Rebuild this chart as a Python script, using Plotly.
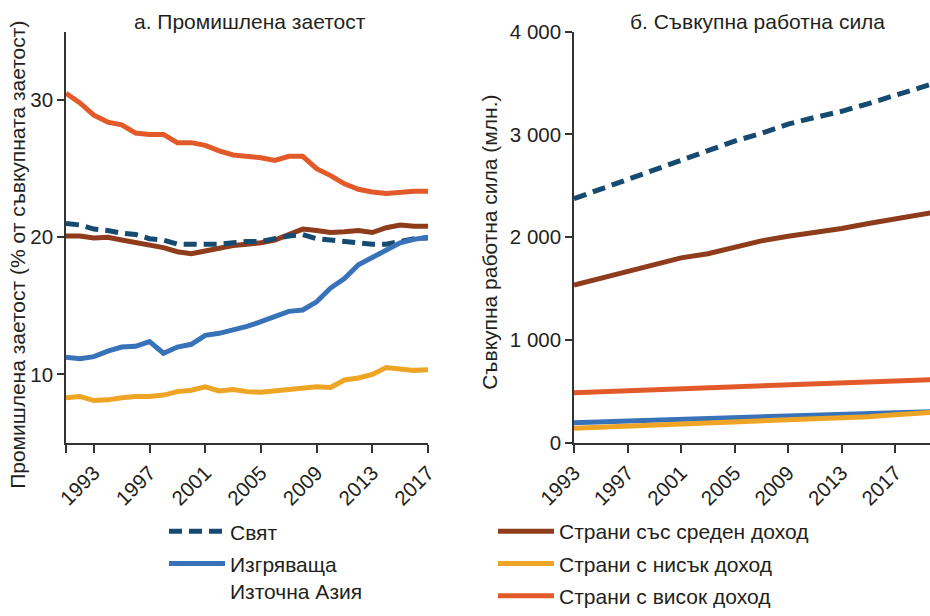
import plotly.graph_objects as go

# ---------------- data ----------------
years_a = list(range(1991, 2018))
world_a = [21.0, 20.9, 20.6, 20.5, 20.3, 20.2, 19.9, 19.8, 19.5, 19.5, 19.5, 19.5, 19.6, 19.7,
           19.7, 19.9, 20.1, 20.2, 19.9, 19.8, 19.7, 19.6, 19.5, 19.5, 19.7, 19.9, 19.95]
eastasia_a = [11.25, 11.15, 11.3, 11.7, 12.0, 12.05, 12.4, 11.55, 12.0, 12.2, 12.85, 13.0, 13.25, 13.5,
              13.85, 14.2, 14.6, 14.7, 15.3, 16.3, 17.0, 18.0, 18.5, 19.1, 19.6, 19.85, 20.0]
middle_a = [20.1, 20.1, 19.95, 20.0, 19.8, 19.6, 19.4, 19.25, 18.95, 18.8, 19.0, 19.2, 19.4, 19.5,
            19.6, 19.8, 20.2, 20.6, 20.5, 20.35, 20.4, 20.5, 20.35, 20.7, 20.9, 20.8, 20.8]
low_a = [8.3, 8.4, 8.1, 8.15, 8.3, 8.4, 8.4, 8.5, 8.75, 8.85, 9.1, 8.8, 8.9, 8.75,
         8.7, 8.8, 8.95, 9.05, 9.1, 9.05, 9.6, 9.75, 10.0, 10.5, 10.4, 10.3, 10.35]
high_a = [30.5, 29.8, 28.9, 28.4, 28.2, 27.6, 27.5, 27.5, 26.9, 26.9, 26.7, 26.3, 26.0, 25.9,
          25.8, 25.6, 25.9, 25.9, 25.0, 24.5, 23.9, 23.5, 23.3, 23.2, 23.3, 23.35, 23.35]

years_b = [1993, 1995, 1997, 1999, 2001, 2003, 2005, 2007, 2009, 2011, 2013, 2015, 2017, 2019, 2020]
world_b = [2375, 2470, 2560, 2650, 2750, 2850, 2935, 3010, 3100, 3165, 3225, 3300, 3380, 3460, 3500]
middle_b = [1535, 1600, 1670, 1740, 1800, 1840, 1900, 1965, 2010, 2045, 2085, 2135, 2180, 2225, 2245]
high_b = [490, 500, 510, 520, 530, 540, 550, 560, 570, 578, 585, 593, 600, 612, 617]
eastasia_b = [198, 207, 215, 222, 230, 238, 245, 252, 260, 270, 280, 288, 295, 303, 306]
low_b = [145, 155, 165, 172, 180, 188, 195, 205, 215, 227, 240, 257, 275, 292, 300]

xticks_a = [1991, 1993, 1997, 2001, 2005, 2009, 2013, 2017]
xticktext_a = ["", "1993", "1997", "2001", "2005", "2009", "2013", "2017"]
yticks_a = [10, 20, 30]
xticks_b = [1993, 1997, 2001, 2005, 2009, 2013, 2017]
yticks_b = [0, 1000, 2000, 3000, 4000]
yticktext_b = ["0", "1 000", "2 000", "3 000", "4 000"]

names = {
    "world": "Свят",
    "eastasia": "Изгряваща<br>Източна Азия",
    "middle": "Страни със среден доход",
    "low": "Страни с нисък доход",
    "high": "Страни с висок доход",
}
colors = {
    "world": "#164a70",
    "eastasia": "#3873ba",
    "middle": "#8e3c1c",
    "low": "#eea526",
    "high": "#e35a2a",
}
title_a = "а. Промишлена заетост"
title_b = "б. Съвкупна работна сила"
ytitle_a = "Промишлена заетост (% от съвкупната заетост)"
ytitle_b = "Съвкупна работна сила (млн.)"

FONT = "Liberation Sans, Arial, sans-serif"
TXT = "#231f20"
W, H = 930, 616


def px(x):
    return x / W


def py(s):
    # vertical placement, adjusted for how the page is photographed
    return 1 - ((s - 0.5) / 0.976) / H


# ---------------- figure ----------------
fig = go.Figure()

series = [
    ("high", high_a, high_b, "legend2", 3),
    ("middle", middle_a, middle_b, "legend2", 1),
    ("world", world_a, world_b, "legend", 1),
    ("eastasia", eastasia_a, eastasia_b, "legend", 2),
    ("low", low_a, low_b, "legend2", 2),
]
for key, ya, yb, leg, rank in series:
    dash = "13px,7px" if key == "world" else "solid"
    line = dict(color=colors[key], width=5, dash=dash)
    fig.add_trace(go.Scatter(x=years_a, y=ya, mode="lines", line=line, name=names[key],
                             legend=leg, legendrank=rank, legendgroup=key, showlegend=True,
                             xaxis="x", yaxis="y", hoverinfo="skip"))
    fig.add_trace(go.Scatter(x=years_b, y=yb, mode="lines", line=line, name=names[key],
                             legendgroup=key, showlegend=False, xaxis="x2", yaxis="y2",
                             hoverinfo="skip"))

axis_common = dict(showline=True, linecolor="#333333", linewidth=1.5, ticks="outside",
                   tickcolor="#333333", tickwidth=1.5, showgrid=False, zeroline=False,
                   tickfont=dict(family=FONT, size=20.5, color=TXT), automargin=False)

ydom = [py(443), py(32)]
leg_common = dict(xanchor="left", yanchor="top", itemwidth=56, valign="top",
                  tracegroupgap=2, traceorder="grouped", groupclick="toggleitem",
                  font=dict(family=FONT, size=21, color=TXT), bgcolor="rgba(0,0,0,0)")
fig.update_layout(
    width=W, height=H,
    margin=dict(l=0, r=0, t=0, b=0),
    paper_bgcolor="white", plot_bgcolor="white",
    font=dict(family=FONT, size=21, color=TXT),
    xaxis=dict(domain=[px(66), px(428)], range=[1991, 2017], tickvals=xticks_a,
               ticktext=xticktext_a, tickangle=-45, ticklen=8, anchor="y", **axis_common),
    yaxis=dict(domain=ydom, range=[5, 35], tickvals=yticks_a, ticklen=7, anchor="x",
               **axis_common),
    xaxis2=dict(domain=[px(574), 1.0], range=[1993, 2019.6], tickvals=xticks_b,
                tickangle=-45, ticklen=8, anchor="y2", **axis_common),
    yaxis2=dict(domain=ydom, range=[0, 4000], tickvals=yticks_b, ticktext=yticktext_b,
                ticklen=7, anchor="x2", **axis_common),
    legend=dict(x=px(164), y=py(511), **leg_common),
    legend2=dict(x=px(493), y=py(511), **leg_common),
)

annos = [
    dict(text=title_a, x=px(250), y=py(22)),
    dict(text=title_b, x=px(757), y=py(22)),
    dict(text=ytitle_a, x=px(18), y=py(255), textangle=-90),
    dict(text=ytitle_b, x=px(490), y=py(243), textangle=-90),
]
for a in annos:
    fig.add_annotation(xref="paper", yref="paper", showarrow=False, xanchor="center",
                       yanchor="middle", font=dict(family=FONT, size=21, color=TXT), **a)

# remove the browser's default page margin so the 930x616 figure fills the window exactly
fig.write_html("out.html", config={"displayModeBar": False},
               post_script="document.body.style.margin='0';document.body.style.overflow='hidden';")
